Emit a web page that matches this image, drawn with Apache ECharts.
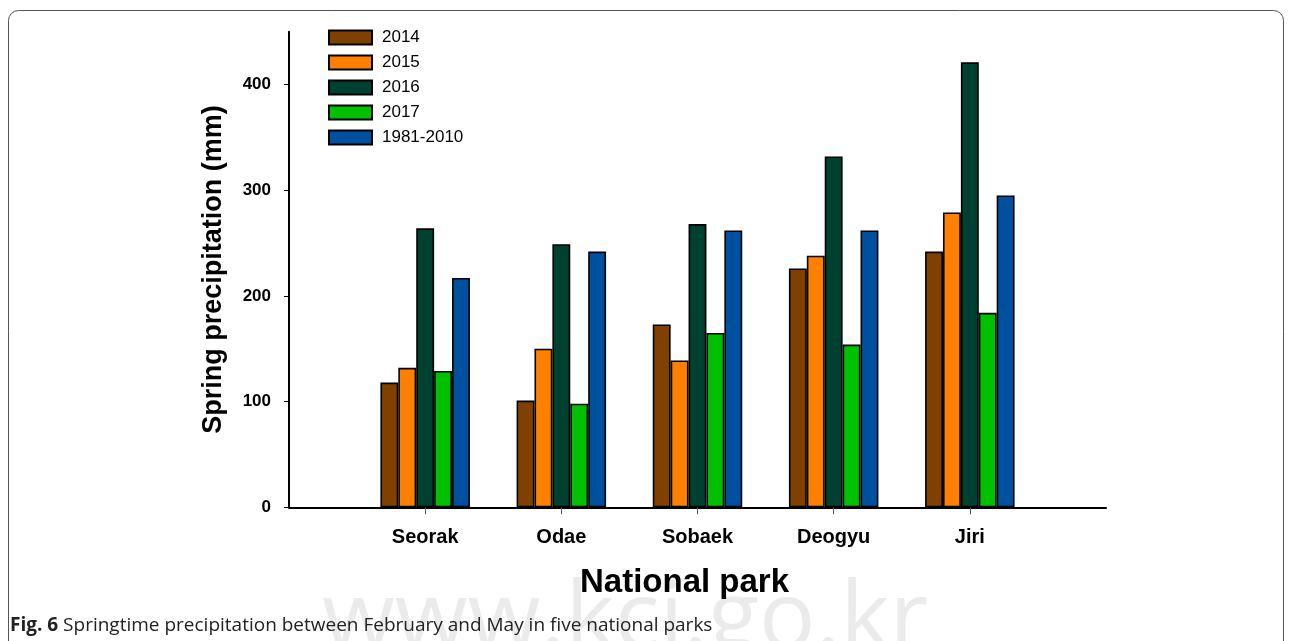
<!DOCTYPE html>
<html>
<head>
<meta charset="utf-8">
<script src="https://cdn.jsdelivr.net/npm/echarts@6/dist/echarts.min.js"></script>
<style>
html,body{margin:0;padding:0;background:#fff;}
#chart{width:1292px;height:641px;}
</style>
</head>
<body>
<div id="chart"></div>
<script>
const parks = ['Seorak', 'Odae', 'Sobaek', 'Deogyu', 'Jiri'];
const seriesNames = ['2014', '2015', '2016', '2017', '1981-2010'];
const v2014 = [118, 101, 173, 226, 242];
const v2015 = [132, 150, 139, 238, 279];
const v2016 = [264, 249, 268, 332, 421];
const v2017 = [129, 98, 165, 154, 184];
const vNormal = [217, 242, 262, 262, 295];
const yTicks = [0, 100, 200, 300, 400];
const colors = ['#804000', '#ff8000', '#004030', '#00c000', '#0050a0'];

const categories = [''].concat(parks, ['']);
const pad = arr => ['-'].concat(arr, ['-']);
const allValues = [v2014, v2015, v2016, v2017, vNormal];

const FONT = 'Liberation Sans, Arial, sans-serif';
const chart = echarts.init(document.getElementById('chart'), null, {renderer: 'canvas'});

const option = {
  animation: false,
  backgroundColor: '#fff',
  grid: {left: 289, right: 186, top: 31.7, bottom: 133.7, containLabel: false},
  legend: {
    data: seriesNames,
    orient: 'vertical',
    left: 323,
    top: 24,
    itemWidth: 43,
    itemHeight: 14,
    itemGap: 8,
    icon: 'rect',
    textStyle: {fontFamily: FONT, fontSize: 17, color: '#000', lineHeight: 14, padding: [0, 0, 0, 5]}
  },
  xAxis: {
    type: 'category',
    data: categories,
    boundaryGap: false,
    name: 'National park',
    nameLocation: 'middle',
    nameGap: 59,
    nameTextStyle: {fontFamily: FONT, fontSize: 33, fontWeight: 'bold', color: '#000', padding: [0, 26, 0, 0]},
    axisLine: {lineStyle: {color: '#000', width: 2}},
    axisTick: {
      show: true,
      length: 7,
      interval: function (i) { return i >= 1 && i <= 5; },
      lineStyle: {color: '#555', width: 1}
    },
    axisLabel: {
      interval: 0,
      margin: 20,
      fontFamily: FONT, fontSize: 20, fontWeight: 'bold', color: '#000'
    },
    splitLine: {show: false}
  },
  yAxis: {
    type: 'value',
    min: 0,
    max: 450,
    interval: 100,
    name: 'Spring precipitation (mm)',
    nameLocation: 'middle',
    nameGap: 62,
    nameTextStyle: {fontFamily: FONT, fontSize: 27, fontWeight: 'bold', color: '#000'},
    axisLine: {show: true, lineStyle: {color: '#000', width: 2}},
    axisTick: {show: true, length: 5, customValues: yTicks, lineStyle: {color: '#000', width: 1}},
    axisLabel: {customValues: yTicks, margin: 18, fontFamily: FONT, fontSize: 17, fontWeight: 'bold', color: '#000'},
    splitLine: {show: false}
  },
  series: seriesNames.map((name, i) => ({
    name: name,
    type: 'bar',
    data: pad(allValues[i]),
    barWidth: 17.9,
    barGap: '0%',
    itemStyle: {color: colors[i], borderColor: '#000', borderWidth: 1.6}
  })),
  graphic: [
    {
      type: 'rect', z: -10, silent: true,
      shape: {x: 8.5, y: 10.5, width: 1275, height: 680, r: 10},
      style: {fill: 'none', stroke: '#555', lineWidth: 1}
    },
    {
      type: 'text', z: -5, silent: true,
      left: 322, top: 574,
      style: {text: 'www.kci.go.kr', fontFamily: 'Open Sans, sans-serif', fontSize: 94, fill: '#ebebeb'}
    },
    {
      type: 'text', z: 10, silent: true,
      left: 10, top: 616,
      style: {
        text: '{b|Fig. 6} Springtime precipitation between February and May in five national parks',
        rich: {
          b: {fontFamily: 'Open Sans, sans-serif', fontSize: 19, fontWeight: 'bold', fill: '#222'}
        },
        fontFamily: 'Open Sans, sans-serif', fontSize: 19, fill: '#222'
      }
    }
  ]
};
chart.setOption(option);
</script>
</body>
</html>
